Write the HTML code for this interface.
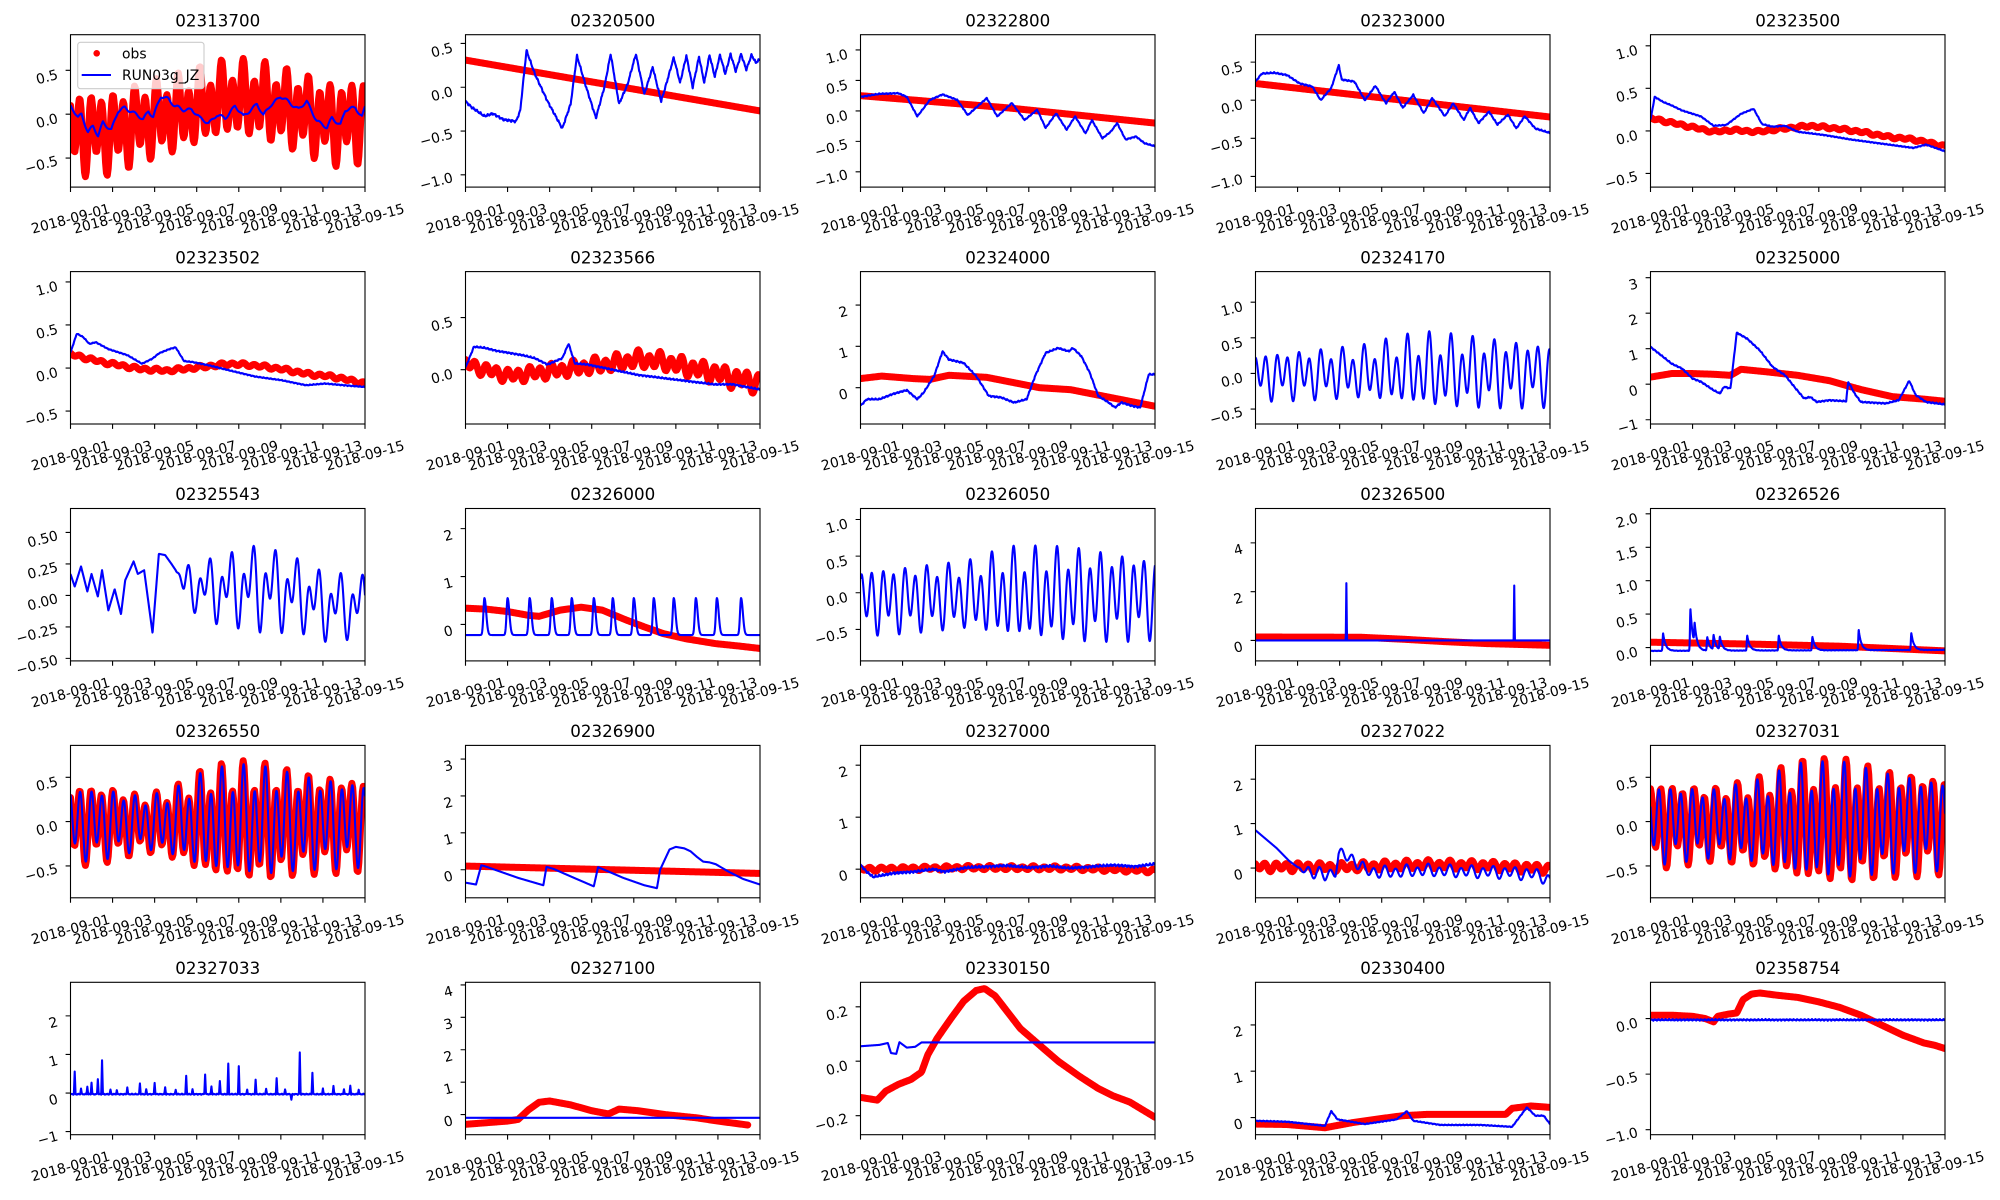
<!DOCTYPE html>
<html><head><meta charset="utf-8">
<style>
html,body{margin:0;padding:0;background:#fff;}
svg{display:block;}
text{font-family:"DejaVu Sans","Liberation Sans",sans-serif;font-size:13.9px;fill:#000;}
.ti{font-size:16.7px;text-anchor:middle;}
.xl{text-anchor:middle;}
.yl{text-anchor:end;}
.fr{fill:none;stroke:#000;stroke-width:1.1;}
.tk{fill:none;stroke:#000;stroke-width:1.1;}
.ob{fill:none;stroke:#ff0000;stroke-width:7.0;stroke-linejoin:round;stroke-linecap:round;}
.md{fill:none;stroke:#0000ff;stroke-width:2.1;stroke-linejoin:round;stroke-linecap:butt;}
</style></head>
<body>
<svg id="fig" width="2000" height="1200" viewBox="0 0 2000 1200" xmlns="http://www.w3.org/2000/svg">
<defs><clipPath id="cp"><rect x="0" y="0" width="294.5" height="152.4"/></clipPath></defs>
<rect width="2000" height="1200" fill="#fff"/>

<!-- Panel 0 -->
<g transform="translate(70.5 34.7)">
<g clip-path="url(#cp)" id="d0"></g>
<rect class="fr" width="294.5" height="152.4"/>
<path class="tk" d="M0 152.4v4.9M42.07 152.4v4.9M84.14 152.4v4.9M126.21 152.4v4.9M168.29 152.4v4.9M210.36 152.4v4.9M252.43 152.4v4.9M294.5 152.4v4.9M0 35.57h-4.9M0 79.49h-4.9M0 123.41h-4.9"/>
<text class="xl" transform="translate(0 183.7) rotate(-15)" y="5">2018-09-01</text>
<text class="xl" transform="translate(42.07 183.7) rotate(-15)" y="5">2018-09-03</text>
<text class="xl" transform="translate(84.14 183.7) rotate(-15)" y="5">2018-09-05</text>
<text class="xl" transform="translate(126.21 183.7) rotate(-15)" y="5">2018-09-07</text>
<text class="xl" transform="translate(168.29 183.7) rotate(-15)" y="5">2018-09-09</text>
<text class="xl" transform="translate(210.36 183.7) rotate(-15)" y="5">2018-09-11</text>
<text class="xl" transform="translate(252.43 183.7) rotate(-15)" y="5">2018-09-13</text>
<text class="xl" transform="translate(294.5 183.7) rotate(-15)" y="5">2018-09-15</text>
<text class="yl" transform="translate(-11.7 43.97) rotate(-15)">0.5</text>
<text class="yl" transform="translate(-11.7 87.89) rotate(-15)">0.0</text>
<text class="yl" transform="translate(-11.7 130.26) rotate(-15)">−0.5</text>
<text class="ti" x="147.25" y="-8.3">02313700</text>
<rect x="7.2" y="7.6" width="126.3" height="46.4" rx="2.8" fill="#fff" fill-opacity="0.8" stroke="#cccccc" stroke-width="1.1"/>
<circle cx="26.2" cy="18.6" r="3.3" fill="#ff0000"/>
<line x1="11.2" y1="40.3" x2="40.5" y2="40.3" stroke="#0000ff" stroke-width="2.1"/>
<text x="51.5" y="23.6">obs</text>
<text x="51.5" y="45.3">RUN03g_JZ</text>
</g>

<!-- Panel 1 -->
<g transform="translate(465.5 34.7)">
<g clip-path="url(#cp)" id="d1"></g>
<rect class="fr" width="294.5" height="152.4"/>
<path class="tk" d="M0 152.4v4.9M42.07 152.4v4.9M84.14 152.4v4.9M126.21 152.4v4.9M168.29 152.4v4.9M210.36 152.4v4.9M252.43 152.4v4.9M294.5 152.4v4.9M0 8.76h-4.9M0 52.55h-4.9M0 96.35h-4.9M0 140.14h-4.9"/>
<text class="xl" transform="translate(0 183.7) rotate(-15)" y="5">2018-09-01</text>
<text class="xl" transform="translate(42.07 183.7) rotate(-15)" y="5">2018-09-03</text>
<text class="xl" transform="translate(84.14 183.7) rotate(-15)" y="5">2018-09-05</text>
<text class="xl" transform="translate(126.21 183.7) rotate(-15)" y="5">2018-09-07</text>
<text class="xl" transform="translate(168.29 183.7) rotate(-15)" y="5">2018-09-09</text>
<text class="xl" transform="translate(210.36 183.7) rotate(-15)" y="5">2018-09-11</text>
<text class="xl" transform="translate(252.43 183.7) rotate(-15)" y="5">2018-09-13</text>
<text class="xl" transform="translate(294.5 183.7) rotate(-15)" y="5">2018-09-15</text>
<text class="yl" transform="translate(-11.7 17.16) rotate(-15)">0.5</text>
<text class="yl" transform="translate(-11.7 60.95) rotate(-15)">0.0</text>
<text class="yl" transform="translate(-11.7 103.2) rotate(-15)">−0.5</text>
<text class="yl" transform="translate(-11.7 146.99) rotate(-15)">−1.0</text>
<text class="ti" x="147.25" y="-8.3">02320500</text>
</g>

<!-- Panel 2 -->
<g transform="translate(860.5 34.7)">
<g clip-path="url(#cp)" id="d2"></g>
<rect class="fr" width="294.5" height="152.4"/>
<path class="tk" d="M0 152.4v4.9M42.07 152.4v4.9M84.14 152.4v4.9M126.21 152.4v4.9M168.29 152.4v4.9M210.36 152.4v4.9M252.43 152.4v4.9M294.5 152.4v4.9M0 15.24h-4.9M0 45.72h-4.9M0 76.2h-4.9M0 106.68h-4.9M0 137.16h-4.9"/>
<text class="xl" transform="translate(0 183.7) rotate(-15)" y="5">2018-09-01</text>
<text class="xl" transform="translate(42.07 183.7) rotate(-15)" y="5">2018-09-03</text>
<text class="xl" transform="translate(84.14 183.7) rotate(-15)" y="5">2018-09-05</text>
<text class="xl" transform="translate(126.21 183.7) rotate(-15)" y="5">2018-09-07</text>
<text class="xl" transform="translate(168.29 183.7) rotate(-15)" y="5">2018-09-09</text>
<text class="xl" transform="translate(210.36 183.7) rotate(-15)" y="5">2018-09-11</text>
<text class="xl" transform="translate(252.43 183.7) rotate(-15)" y="5">2018-09-13</text>
<text class="xl" transform="translate(294.5 183.7) rotate(-15)" y="5">2018-09-15</text>
<text class="yl" transform="translate(-11.7 23.64) rotate(-15)">1.0</text>
<text class="yl" transform="translate(-11.7 54.12) rotate(-15)">0.5</text>
<text class="yl" transform="translate(-11.7 84.6) rotate(-15)">0.0</text>
<text class="yl" transform="translate(-11.7 113.53) rotate(-15)">−0.5</text>
<text class="yl" transform="translate(-11.7 144.01) rotate(-15)">−1.0</text>
<text class="ti" x="147.25" y="-8.3">02322800</text>
</g>

<!-- Panel 3 -->
<g transform="translate(1255.5 34.7)">
<g clip-path="url(#cp)" id="d3"></g>
<rect class="fr" width="294.5" height="152.4"/>
<path class="tk" d="M0 152.4v4.9M42.07 152.4v4.9M84.14 152.4v4.9M126.21 152.4v4.9M168.29 152.4v4.9M210.36 152.4v4.9M252.43 152.4v4.9M294.5 152.4v4.9M0 27.43h-4.9M0 65.53h-4.9M0 103.63h-4.9M0 141.73h-4.9"/>
<text class="xl" transform="translate(0 183.7) rotate(-15)" y="5">2018-09-01</text>
<text class="xl" transform="translate(42.07 183.7) rotate(-15)" y="5">2018-09-03</text>
<text class="xl" transform="translate(84.14 183.7) rotate(-15)" y="5">2018-09-05</text>
<text class="xl" transform="translate(126.21 183.7) rotate(-15)" y="5">2018-09-07</text>
<text class="xl" transform="translate(168.29 183.7) rotate(-15)" y="5">2018-09-09</text>
<text class="xl" transform="translate(210.36 183.7) rotate(-15)" y="5">2018-09-11</text>
<text class="xl" transform="translate(252.43 183.7) rotate(-15)" y="5">2018-09-13</text>
<text class="xl" transform="translate(294.5 183.7) rotate(-15)" y="5">2018-09-15</text>
<text class="yl" transform="translate(-11.7 35.83) rotate(-15)">0.5</text>
<text class="yl" transform="translate(-11.7 73.93) rotate(-15)">0.0</text>
<text class="yl" transform="translate(-11.7 110.48) rotate(-15)">−0.5</text>
<text class="yl" transform="translate(-11.7 148.58) rotate(-15)">−1.0</text>
<text class="ti" x="147.25" y="-8.3">02323000</text>
</g>

<!-- Panel 4 -->
<g transform="translate(1650.5 34.7)">
<g clip-path="url(#cp)" id="d4"></g>
<rect class="fr" width="294.5" height="152.4"/>
<path class="tk" d="M0 152.4v4.9M42.07 152.4v4.9M84.14 152.4v4.9M126.21 152.4v4.9M168.29 152.4v4.9M210.36 152.4v4.9M252.43 152.4v4.9M294.5 152.4v4.9M0 11.07h-4.9M0 53.64h-4.9M0 96.21h-4.9M0 138.78h-4.9"/>
<text class="xl" transform="translate(0 183.7) rotate(-15)" y="5">2018-09-01</text>
<text class="xl" transform="translate(42.07 183.7) rotate(-15)" y="5">2018-09-03</text>
<text class="xl" transform="translate(84.14 183.7) rotate(-15)" y="5">2018-09-05</text>
<text class="xl" transform="translate(126.21 183.7) rotate(-15)" y="5">2018-09-07</text>
<text class="xl" transform="translate(168.29 183.7) rotate(-15)" y="5">2018-09-09</text>
<text class="xl" transform="translate(210.36 183.7) rotate(-15)" y="5">2018-09-11</text>
<text class="xl" transform="translate(252.43 183.7) rotate(-15)" y="5">2018-09-13</text>
<text class="xl" transform="translate(294.5 183.7) rotate(-15)" y="5">2018-09-15</text>
<text class="yl" transform="translate(-11.7 19.47) rotate(-15)">1.0</text>
<text class="yl" transform="translate(-11.7 62.04) rotate(-15)">0.5</text>
<text class="yl" transform="translate(-11.7 104.61) rotate(-15)">0.0</text>
<text class="yl" transform="translate(-11.7 145.63) rotate(-15)">−0.5</text>
<text class="ti" x="147.25" y="-8.3">02323500</text>
</g>

<!-- Panel 5 -->
<g transform="translate(70.5 271.6)">
<g clip-path="url(#cp)" id="d5"></g>
<rect class="fr" width="294.5" height="152.4"/>
<path class="tk" d="M0 152.4v4.9M42.07 152.4v4.9M84.14 152.4v4.9M126.21 152.4v4.9M168.29 152.4v4.9M210.36 152.4v4.9M252.43 152.4v4.9M294.5 152.4v4.9M0 10.33h-4.9M0 53.38h-4.9M0 96.43h-4.9M0 139.48h-4.9"/>
<text class="xl" transform="translate(0 183.7) rotate(-15)" y="5">2018-09-01</text>
<text class="xl" transform="translate(42.07 183.7) rotate(-15)" y="5">2018-09-03</text>
<text class="xl" transform="translate(84.14 183.7) rotate(-15)" y="5">2018-09-05</text>
<text class="xl" transform="translate(126.21 183.7) rotate(-15)" y="5">2018-09-07</text>
<text class="xl" transform="translate(168.29 183.7) rotate(-15)" y="5">2018-09-09</text>
<text class="xl" transform="translate(210.36 183.7) rotate(-15)" y="5">2018-09-11</text>
<text class="xl" transform="translate(252.43 183.7) rotate(-15)" y="5">2018-09-13</text>
<text class="xl" transform="translate(294.5 183.7) rotate(-15)" y="5">2018-09-15</text>
<text class="yl" transform="translate(-11.7 18.73) rotate(-15)">1.0</text>
<text class="yl" transform="translate(-11.7 61.78) rotate(-15)">0.5</text>
<text class="yl" transform="translate(-11.7 104.83) rotate(-15)">0.0</text>
<text class="yl" transform="translate(-11.7 146.33) rotate(-15)">−0.5</text>
<text class="ti" x="147.25" y="-8.3">02323502</text>
</g>

<!-- Panel 6 -->
<g transform="translate(465.5 271.6)">
<g clip-path="url(#cp)" id="d6"></g>
<rect class="fr" width="294.5" height="152.4"/>
<path class="tk" d="M0 152.4v4.9M42.07 152.4v4.9M84.14 152.4v4.9M126.21 152.4v4.9M168.29 152.4v4.9M210.36 152.4v4.9M252.43 152.4v4.9M294.5 152.4v4.9M0 45.93h-4.9M0 98.12h-4.9"/>
<text class="xl" transform="translate(0 183.7) rotate(-15)" y="5">2018-09-01</text>
<text class="xl" transform="translate(42.07 183.7) rotate(-15)" y="5">2018-09-03</text>
<text class="xl" transform="translate(84.14 183.7) rotate(-15)" y="5">2018-09-05</text>
<text class="xl" transform="translate(126.21 183.7) rotate(-15)" y="5">2018-09-07</text>
<text class="xl" transform="translate(168.29 183.7) rotate(-15)" y="5">2018-09-09</text>
<text class="xl" transform="translate(210.36 183.7) rotate(-15)" y="5">2018-09-11</text>
<text class="xl" transform="translate(252.43 183.7) rotate(-15)" y="5">2018-09-13</text>
<text class="xl" transform="translate(294.5 183.7) rotate(-15)" y="5">2018-09-15</text>
<text class="yl" transform="translate(-11.7 54.33) rotate(-15)">0.5</text>
<text class="yl" transform="translate(-11.7 106.52) rotate(-15)">0.0</text>
<text class="ti" x="147.25" y="-8.3">02323566</text>
</g>

<!-- Panel 7 -->
<g transform="translate(860.5 271.6)">
<g clip-path="url(#cp)" id="d7"></g>
<rect class="fr" width="294.5" height="152.4"/>
<path class="tk" d="M0 152.4v4.9M42.07 152.4v4.9M84.14 152.4v4.9M126.21 152.4v4.9M168.29 152.4v4.9M210.36 152.4v4.9M252.43 152.4v4.9M294.5 152.4v4.9M0 33.45h-4.9M0 74.75h-4.9M0 116.05h-4.9"/>
<text class="xl" transform="translate(0 183.7) rotate(-15)" y="5">2018-09-01</text>
<text class="xl" transform="translate(42.07 183.7) rotate(-15)" y="5">2018-09-03</text>
<text class="xl" transform="translate(84.14 183.7) rotate(-15)" y="5">2018-09-05</text>
<text class="xl" transform="translate(126.21 183.7) rotate(-15)" y="5">2018-09-07</text>
<text class="xl" transform="translate(168.29 183.7) rotate(-15)" y="5">2018-09-09</text>
<text class="xl" transform="translate(210.36 183.7) rotate(-15)" y="5">2018-09-11</text>
<text class="xl" transform="translate(252.43 183.7) rotate(-15)" y="5">2018-09-13</text>
<text class="xl" transform="translate(294.5 183.7) rotate(-15)" y="5">2018-09-15</text>
<text class="yl" transform="translate(-11.7 43.6) rotate(-15)">2</text>
<text class="yl" transform="translate(-11.7 84.9) rotate(-15)">1</text>
<text class="yl" transform="translate(-11.7 126.2) rotate(-15)">0</text>
<text class="ti" x="147.25" y="-8.3">02324000</text>
</g>

<!-- Panel 8 -->
<g transform="translate(1255.5 271.6)">
<g clip-path="url(#cp)" id="d8"></g>
<rect class="fr" width="294.5" height="152.4"/>
<path class="tk" d="M0 152.4v4.9M42.07 152.4v4.9M84.14 152.4v4.9M126.21 152.4v4.9M168.29 152.4v4.9M210.36 152.4v4.9M252.43 152.4v4.9M294.5 152.4v4.9M0 30.62h-4.9M0 66.23h-4.9M0 101.83h-4.9M0 137.44h-4.9"/>
<text class="xl" transform="translate(0 183.7) rotate(-15)" y="5">2018-09-01</text>
<text class="xl" transform="translate(42.07 183.7) rotate(-15)" y="5">2018-09-03</text>
<text class="xl" transform="translate(84.14 183.7) rotate(-15)" y="5">2018-09-05</text>
<text class="xl" transform="translate(126.21 183.7) rotate(-15)" y="5">2018-09-07</text>
<text class="xl" transform="translate(168.29 183.7) rotate(-15)" y="5">2018-09-09</text>
<text class="xl" transform="translate(210.36 183.7) rotate(-15)" y="5">2018-09-11</text>
<text class="xl" transform="translate(252.43 183.7) rotate(-15)" y="5">2018-09-13</text>
<text class="xl" transform="translate(294.5 183.7) rotate(-15)" y="5">2018-09-15</text>
<text class="yl" transform="translate(-11.7 39.02) rotate(-15)">1.0</text>
<text class="yl" transform="translate(-11.7 74.63) rotate(-15)">0.5</text>
<text class="yl" transform="translate(-11.7 110.23) rotate(-15)">0.0</text>
<text class="yl" transform="translate(-11.7 144.29) rotate(-15)">−0.5</text>
<text class="ti" x="147.25" y="-8.3">02324170</text>
</g>

<!-- Panel 9 -->
<g transform="translate(1650.5 271.6)">
<g clip-path="url(#cp)" id="d9"></g>
<rect class="fr" width="294.5" height="152.4"/>
<path class="tk" d="M0 152.4v4.9M42.07 152.4v4.9M84.14 152.4v4.9M126.21 152.4v4.9M168.29 152.4v4.9M210.36 152.4v4.9M252.43 152.4v4.9M294.5 152.4v4.9M0 6.04h-4.9M0 41.56h-4.9M0 77.09h-4.9M0 112.61h-4.9M0 148.14h-4.9"/>
<text class="xl" transform="translate(0 183.7) rotate(-15)" y="5">2018-09-01</text>
<text class="xl" transform="translate(42.07 183.7) rotate(-15)" y="5">2018-09-03</text>
<text class="xl" transform="translate(84.14 183.7) rotate(-15)" y="5">2018-09-05</text>
<text class="xl" transform="translate(126.21 183.7) rotate(-15)" y="5">2018-09-07</text>
<text class="xl" transform="translate(168.29 183.7) rotate(-15)" y="5">2018-09-09</text>
<text class="xl" transform="translate(210.36 183.7) rotate(-15)" y="5">2018-09-11</text>
<text class="xl" transform="translate(252.43 183.7) rotate(-15)" y="5">2018-09-13</text>
<text class="xl" transform="translate(294.5 183.7) rotate(-15)" y="5">2018-09-15</text>
<text class="yl" transform="translate(-11.7 16.19) rotate(-15)">3</text>
<text class="yl" transform="translate(-11.7 51.71) rotate(-15)">2</text>
<text class="yl" transform="translate(-11.7 87.24) rotate(-15)">1</text>
<text class="yl" transform="translate(-11.7 122.76) rotate(-15)">0</text>
<text class="yl" transform="translate(-11.7 156.79) rotate(-15)">−1</text>
<text class="ti" x="147.25" y="-8.3">02325000</text>
</g>

<!-- Panel 10 -->
<g transform="translate(70.5 508.5)">
<g clip-path="url(#cp)" id="d10"></g>
<rect class="fr" width="294.5" height="152.4"/>
<path class="tk" d="M0 152.4v4.9M42.07 152.4v4.9M84.14 152.4v4.9M126.21 152.4v4.9M168.29 152.4v4.9M210.36 152.4v4.9M252.43 152.4v4.9M294.5 152.4v4.9M0 23.93h-4.9M0 55.42h-4.9M0 86.91h-4.9M0 118.4h-4.9M0 149.88h-4.9"/>
<text class="xl" transform="translate(0 183.7) rotate(-15)" y="5">2018-09-01</text>
<text class="xl" transform="translate(42.07 183.7) rotate(-15)" y="5">2018-09-03</text>
<text class="xl" transform="translate(84.14 183.7) rotate(-15)" y="5">2018-09-05</text>
<text class="xl" transform="translate(126.21 183.7) rotate(-15)" y="5">2018-09-07</text>
<text class="xl" transform="translate(168.29 183.7) rotate(-15)" y="5">2018-09-09</text>
<text class="xl" transform="translate(210.36 183.7) rotate(-15)" y="5">2018-09-11</text>
<text class="xl" transform="translate(252.43 183.7) rotate(-15)" y="5">2018-09-13</text>
<text class="xl" transform="translate(294.5 183.7) rotate(-15)" y="5">2018-09-15</text>
<text class="yl" transform="translate(-11.7 31.18) rotate(-15)">0.50</text>
<text class="yl" transform="translate(-11.7 62.67) rotate(-15)">0.25</text>
<text class="yl" transform="translate(-11.7 94.16) rotate(-15)">0.00</text>
<text class="yl" transform="translate(-11.7 124.15) rotate(-15)">−0.25</text>
<text class="yl" transform="translate(-11.7 155.63) rotate(-15)">−0.50</text>
<text class="ti" x="147.25" y="-8.3">02325543</text>
</g>

<!-- Panel 11 -->
<g transform="translate(465.5 508.5)">
<g clip-path="url(#cp)" id="d11"></g>
<rect class="fr" width="294.5" height="152.4"/>
<path class="tk" d="M0 152.4v4.9M42.07 152.4v4.9M84.14 152.4v4.9M126.21 152.4v4.9M168.29 152.4v4.9M210.36 152.4v4.9M252.43 152.4v4.9M294.5 152.4v4.9M0 20.13h-4.9M0 68.05h-4.9M0 115.98h-4.9"/>
<text class="xl" transform="translate(0 183.7) rotate(-15)" y="5">2018-09-01</text>
<text class="xl" transform="translate(42.07 183.7) rotate(-15)" y="5">2018-09-03</text>
<text class="xl" transform="translate(84.14 183.7) rotate(-15)" y="5">2018-09-05</text>
<text class="xl" transform="translate(126.21 183.7) rotate(-15)" y="5">2018-09-07</text>
<text class="xl" transform="translate(168.29 183.7) rotate(-15)" y="5">2018-09-09</text>
<text class="xl" transform="translate(210.36 183.7) rotate(-15)" y="5">2018-09-11</text>
<text class="xl" transform="translate(252.43 183.7) rotate(-15)" y="5">2018-09-13</text>
<text class="xl" transform="translate(294.5 183.7) rotate(-15)" y="5">2018-09-15</text>
<text class="yl" transform="translate(-11.7 30.28) rotate(-15)">2</text>
<text class="yl" transform="translate(-11.7 78.2) rotate(-15)">1</text>
<text class="yl" transform="translate(-11.7 126.13) rotate(-15)">0</text>
<text class="ti" x="147.25" y="-8.3">02326000</text>
</g>

<!-- Panel 12 -->
<g transform="translate(860.5 508.5)">
<g clip-path="url(#cp)" id="d12"></g>
<rect class="fr" width="294.5" height="152.4"/>
<path class="tk" d="M0 152.4v4.9M42.07 152.4v4.9M84.14 152.4v4.9M126.21 152.4v4.9M168.29 152.4v4.9M210.36 152.4v4.9M252.43 152.4v4.9M294.5 152.4v4.9M0 10.99h-4.9M0 47.63h-4.9M0 84.26h-4.9M0 120.9h-4.9"/>
<text class="xl" transform="translate(0 183.7) rotate(-15)" y="5">2018-09-01</text>
<text class="xl" transform="translate(42.07 183.7) rotate(-15)" y="5">2018-09-03</text>
<text class="xl" transform="translate(84.14 183.7) rotate(-15)" y="5">2018-09-05</text>
<text class="xl" transform="translate(126.21 183.7) rotate(-15)" y="5">2018-09-07</text>
<text class="xl" transform="translate(168.29 183.7) rotate(-15)" y="5">2018-09-09</text>
<text class="xl" transform="translate(210.36 183.7) rotate(-15)" y="5">2018-09-11</text>
<text class="xl" transform="translate(252.43 183.7) rotate(-15)" y="5">2018-09-13</text>
<text class="xl" transform="translate(294.5 183.7) rotate(-15)" y="5">2018-09-15</text>
<text class="yl" transform="translate(-11.7 19.39) rotate(-15)">1.0</text>
<text class="yl" transform="translate(-11.7 56.03) rotate(-15)">0.5</text>
<text class="yl" transform="translate(-11.7 92.66) rotate(-15)">0.0</text>
<text class="yl" transform="translate(-11.7 127.75) rotate(-15)">−0.5</text>
<text class="ti" x="147.25" y="-8.3">02326050</text>
</g>

<!-- Panel 13 -->
<g transform="translate(1255.5 508.5)">
<g clip-path="url(#cp)" id="d13"></g>
<rect class="fr" width="294.5" height="152.4"/>
<path class="tk" d="M0 152.4v4.9M42.07 152.4v4.9M84.14 152.4v4.9M126.21 152.4v4.9M168.29 152.4v4.9M210.36 152.4v4.9M252.43 152.4v4.9M294.5 152.4v4.9M0 34.38h-4.9M0 83.15h-4.9M0 131.92h-4.9"/>
<text class="xl" transform="translate(0 183.7) rotate(-15)" y="5">2018-09-01</text>
<text class="xl" transform="translate(42.07 183.7) rotate(-15)" y="5">2018-09-03</text>
<text class="xl" transform="translate(84.14 183.7) rotate(-15)" y="5">2018-09-05</text>
<text class="xl" transform="translate(126.21 183.7) rotate(-15)" y="5">2018-09-07</text>
<text class="xl" transform="translate(168.29 183.7) rotate(-15)" y="5">2018-09-09</text>
<text class="xl" transform="translate(210.36 183.7) rotate(-15)" y="5">2018-09-11</text>
<text class="xl" transform="translate(252.43 183.7) rotate(-15)" y="5">2018-09-13</text>
<text class="xl" transform="translate(294.5 183.7) rotate(-15)" y="5">2018-09-15</text>
<text class="yl" transform="translate(-11.7 44.53) rotate(-15)">4</text>
<text class="yl" transform="translate(-11.7 93.3) rotate(-15)">2</text>
<text class="yl" transform="translate(-11.7 142.07) rotate(-15)">0</text>
<text class="ti" x="147.25" y="-8.3">02326500</text>
</g>

<!-- Panel 14 -->
<g transform="translate(1650.5 508.5)">
<g clip-path="url(#cp)" id="d14"></g>
<rect class="fr" width="294.5" height="152.4"/>
<path class="tk" d="M0 152.4v4.9M42.07 152.4v4.9M84.14 152.4v4.9M126.21 152.4v4.9M168.29 152.4v4.9M210.36 152.4v4.9M252.43 152.4v4.9M294.5 152.4v4.9M0 5.35h-4.9M0 38.77h-4.9M0 72.19h-4.9M0 105.61h-4.9M0 139.03h-4.9"/>
<text class="xl" transform="translate(0 183.7) rotate(-15)" y="5">2018-09-01</text>
<text class="xl" transform="translate(42.07 183.7) rotate(-15)" y="5">2018-09-03</text>
<text class="xl" transform="translate(84.14 183.7) rotate(-15)" y="5">2018-09-05</text>
<text class="xl" transform="translate(126.21 183.7) rotate(-15)" y="5">2018-09-07</text>
<text class="xl" transform="translate(168.29 183.7) rotate(-15)" y="5">2018-09-09</text>
<text class="xl" transform="translate(210.36 183.7) rotate(-15)" y="5">2018-09-11</text>
<text class="xl" transform="translate(252.43 183.7) rotate(-15)" y="5">2018-09-13</text>
<text class="xl" transform="translate(294.5 183.7) rotate(-15)" y="5">2018-09-15</text>
<text class="yl" transform="translate(-11.7 13.75) rotate(-15)">2.0</text>
<text class="yl" transform="translate(-11.7 47.17) rotate(-15)">1.5</text>
<text class="yl" transform="translate(-11.7 80.59) rotate(-15)">1.0</text>
<text class="yl" transform="translate(-11.7 114.01) rotate(-15)">0.5</text>
<text class="yl" transform="translate(-11.7 147.43) rotate(-15)">0.0</text>
<text class="ti" x="147.25" y="-8.3">02326526</text>
</g>

<!-- Panel 15 -->
<g transform="translate(70.5 745.4)">
<g clip-path="url(#cp)" id="d15"></g>
<rect class="fr" width="294.5" height="152.4"/>
<path class="tk" d="M0 152.4v4.9M42.07 152.4v4.9M84.14 152.4v4.9M126.21 152.4v4.9M168.29 152.4v4.9M210.36 152.4v4.9M252.43 152.4v4.9M294.5 152.4v4.9M0 31.9h-4.9M0 76.2h-4.9M0 120.5h-4.9"/>
<text class="xl" transform="translate(0 183.7) rotate(-15)" y="5">2018-09-01</text>
<text class="xl" transform="translate(42.07 183.7) rotate(-15)" y="5">2018-09-03</text>
<text class="xl" transform="translate(84.14 183.7) rotate(-15)" y="5">2018-09-05</text>
<text class="xl" transform="translate(126.21 183.7) rotate(-15)" y="5">2018-09-07</text>
<text class="xl" transform="translate(168.29 183.7) rotate(-15)" y="5">2018-09-09</text>
<text class="xl" transform="translate(210.36 183.7) rotate(-15)" y="5">2018-09-11</text>
<text class="xl" transform="translate(252.43 183.7) rotate(-15)" y="5">2018-09-13</text>
<text class="xl" transform="translate(294.5 183.7) rotate(-15)" y="5">2018-09-15</text>
<text class="yl" transform="translate(-11.7 40.3) rotate(-15)">0.5</text>
<text class="yl" transform="translate(-11.7 84.6) rotate(-15)">0.0</text>
<text class="yl" transform="translate(-11.7 127.35) rotate(-15)">−0.5</text>
<text class="ti" x="147.25" y="-8.3">02326550</text>
</g>

<!-- Panel 16 -->
<g transform="translate(465.5 745.4)">
<g clip-path="url(#cp)" id="d16"></g>
<rect class="fr" width="294.5" height="152.4"/>
<path class="tk" d="M0 152.4v4.9M42.07 152.4v4.9M84.14 152.4v4.9M126.21 152.4v4.9M168.29 152.4v4.9M210.36 152.4v4.9M252.43 152.4v4.9M294.5 152.4v4.9M0 13.65h-4.9M0 50.55h-4.9M0 87.46h-4.9M0 124.36h-4.9"/>
<text class="xl" transform="translate(0 183.7) rotate(-15)" y="5">2018-09-01</text>
<text class="xl" transform="translate(42.07 183.7) rotate(-15)" y="5">2018-09-03</text>
<text class="xl" transform="translate(84.14 183.7) rotate(-15)" y="5">2018-09-05</text>
<text class="xl" transform="translate(126.21 183.7) rotate(-15)" y="5">2018-09-07</text>
<text class="xl" transform="translate(168.29 183.7) rotate(-15)" y="5">2018-09-09</text>
<text class="xl" transform="translate(210.36 183.7) rotate(-15)" y="5">2018-09-11</text>
<text class="xl" transform="translate(252.43 183.7) rotate(-15)" y="5">2018-09-13</text>
<text class="xl" transform="translate(294.5 183.7) rotate(-15)" y="5">2018-09-15</text>
<text class="yl" transform="translate(-11.7 23.8) rotate(-15)">3</text>
<text class="yl" transform="translate(-11.7 60.7) rotate(-15)">2</text>
<text class="yl" transform="translate(-11.7 97.61) rotate(-15)">1</text>
<text class="yl" transform="translate(-11.7 134.51) rotate(-15)">0</text>
<text class="ti" x="147.25" y="-8.3">02326900</text>
</g>

<!-- Panel 17 -->
<g transform="translate(860.5 745.4)">
<g clip-path="url(#cp)" id="d17"></g>
<rect class="fr" width="294.5" height="152.4"/>
<path class="tk" d="M0 152.4v4.9M42.07 152.4v4.9M84.14 152.4v4.9M126.21 152.4v4.9M168.29 152.4v4.9M210.36 152.4v4.9M252.43 152.4v4.9M294.5 152.4v4.9M0 19.76h-4.9M0 71.78h-4.9M0 123.79h-4.9"/>
<text class="xl" transform="translate(0 183.7) rotate(-15)" y="5">2018-09-01</text>
<text class="xl" transform="translate(42.07 183.7) rotate(-15)" y="5">2018-09-03</text>
<text class="xl" transform="translate(84.14 183.7) rotate(-15)" y="5">2018-09-05</text>
<text class="xl" transform="translate(126.21 183.7) rotate(-15)" y="5">2018-09-07</text>
<text class="xl" transform="translate(168.29 183.7) rotate(-15)" y="5">2018-09-09</text>
<text class="xl" transform="translate(210.36 183.7) rotate(-15)" y="5">2018-09-11</text>
<text class="xl" transform="translate(252.43 183.7) rotate(-15)" y="5">2018-09-13</text>
<text class="xl" transform="translate(294.5 183.7) rotate(-15)" y="5">2018-09-15</text>
<text class="yl" transform="translate(-11.7 29.91) rotate(-15)">2</text>
<text class="yl" transform="translate(-11.7 81.93) rotate(-15)">1</text>
<text class="yl" transform="translate(-11.7 133.94) rotate(-15)">0</text>
<text class="ti" x="147.25" y="-8.3">02327000</text>
</g>

<!-- Panel 18 -->
<g transform="translate(1255.5 745.4)">
<g clip-path="url(#cp)" id="d18"></g>
<rect class="fr" width="294.5" height="152.4"/>
<path class="tk" d="M0 152.4v4.9M42.07 152.4v4.9M84.14 152.4v4.9M126.21 152.4v4.9M168.29 152.4v4.9M210.36 152.4v4.9M252.43 152.4v4.9M294.5 152.4v4.9M0 33.77h-4.9M0 78.2h-4.9M0 122.63h-4.9"/>
<text class="xl" transform="translate(0 183.7) rotate(-15)" y="5">2018-09-01</text>
<text class="xl" transform="translate(42.07 183.7) rotate(-15)" y="5">2018-09-03</text>
<text class="xl" transform="translate(84.14 183.7) rotate(-15)" y="5">2018-09-05</text>
<text class="xl" transform="translate(126.21 183.7) rotate(-15)" y="5">2018-09-07</text>
<text class="xl" transform="translate(168.29 183.7) rotate(-15)" y="5">2018-09-09</text>
<text class="xl" transform="translate(210.36 183.7) rotate(-15)" y="5">2018-09-11</text>
<text class="xl" transform="translate(252.43 183.7) rotate(-15)" y="5">2018-09-13</text>
<text class="xl" transform="translate(294.5 183.7) rotate(-15)" y="5">2018-09-15</text>
<text class="yl" transform="translate(-11.7 43.92) rotate(-15)">2</text>
<text class="yl" transform="translate(-11.7 88.35) rotate(-15)">1</text>
<text class="yl" transform="translate(-11.7 132.78) rotate(-15)">0</text>
<text class="ti" x="147.25" y="-8.3">02327022</text>
</g>

<!-- Panel 19 -->
<g transform="translate(1650.5 745.4)">
<g clip-path="url(#cp)" id="d19"></g>
<rect class="fr" width="294.5" height="152.4"/>
<path class="tk" d="M0 152.4v4.9M42.07 152.4v4.9M84.14 152.4v4.9M126.21 152.4v4.9M168.29 152.4v4.9M210.36 152.4v4.9M252.43 152.4v4.9M294.5 152.4v4.9M0 31.9h-4.9M0 76.2h-4.9M0 120.5h-4.9"/>
<text class="xl" transform="translate(0 183.7) rotate(-15)" y="5">2018-09-01</text>
<text class="xl" transform="translate(42.07 183.7) rotate(-15)" y="5">2018-09-03</text>
<text class="xl" transform="translate(84.14 183.7) rotate(-15)" y="5">2018-09-05</text>
<text class="xl" transform="translate(126.21 183.7) rotate(-15)" y="5">2018-09-07</text>
<text class="xl" transform="translate(168.29 183.7) rotate(-15)" y="5">2018-09-09</text>
<text class="xl" transform="translate(210.36 183.7) rotate(-15)" y="5">2018-09-11</text>
<text class="xl" transform="translate(252.43 183.7) rotate(-15)" y="5">2018-09-13</text>
<text class="xl" transform="translate(294.5 183.7) rotate(-15)" y="5">2018-09-15</text>
<text class="yl" transform="translate(-11.7 40.3) rotate(-15)">0.5</text>
<text class="yl" transform="translate(-11.7 84.6) rotate(-15)">0.0</text>
<text class="yl" transform="translate(-11.7 127.35) rotate(-15)">−0.5</text>
<text class="ti" x="147.25" y="-8.3">02327031</text>
</g>

<!-- Panel 20 -->
<g transform="translate(70.5 982.3)">
<g clip-path="url(#cp)" id="d20"></g>
<rect class="fr" width="294.5" height="152.4"/>
<path class="tk" d="M0 152.4v4.9M42.07 152.4v4.9M84.14 152.4v4.9M126.21 152.4v4.9M168.29 152.4v4.9M210.36 152.4v4.9M252.43 152.4v4.9M294.5 152.4v4.9M0 33.57h-4.9M0 72.15h-4.9M0 110.73h-4.9M0 149.3h-4.9"/>
<text class="xl" transform="translate(0 183.7) rotate(-15)" y="5">2018-09-01</text>
<text class="xl" transform="translate(42.07 183.7) rotate(-15)" y="5">2018-09-03</text>
<text class="xl" transform="translate(84.14 183.7) rotate(-15)" y="5">2018-09-05</text>
<text class="xl" transform="translate(126.21 183.7) rotate(-15)" y="5">2018-09-07</text>
<text class="xl" transform="translate(168.29 183.7) rotate(-15)" y="5">2018-09-09</text>
<text class="xl" transform="translate(210.36 183.7) rotate(-15)" y="5">2018-09-11</text>
<text class="xl" transform="translate(252.43 183.7) rotate(-15)" y="5">2018-09-13</text>
<text class="xl" transform="translate(294.5 183.7) rotate(-15)" y="5">2018-09-15</text>
<text class="yl" transform="translate(-11.7 43.72) rotate(-15)">2</text>
<text class="yl" transform="translate(-11.7 82.3) rotate(-15)">1</text>
<text class="yl" transform="translate(-11.7 120.88) rotate(-15)">0</text>
<text class="yl" transform="translate(-11.7 157.95) rotate(-15)">−1</text>
<text class="ti" x="147.25" y="-8.3">02327033</text>
</g>

<!-- Panel 21 -->
<g transform="translate(465.5 982.3)">
<g clip-path="url(#cp)" id="d21"></g>
<rect class="fr" width="294.5" height="152.4"/>
<path class="tk" d="M0 152.4v4.9M42.07 152.4v4.9M84.14 152.4v4.9M126.21 152.4v4.9M168.29 152.4v4.9M210.36 152.4v4.9M252.43 152.4v4.9M294.5 152.4v4.9M0 2.59h-4.9M0 35.02h-4.9M0 67.44h-4.9M0 99.87h-4.9M0 132.3h-4.9"/>
<text class="xl" transform="translate(0 183.7) rotate(-15)" y="5">2018-09-01</text>
<text class="xl" transform="translate(42.07 183.7) rotate(-15)" y="5">2018-09-03</text>
<text class="xl" transform="translate(84.14 183.7) rotate(-15)" y="5">2018-09-05</text>
<text class="xl" transform="translate(126.21 183.7) rotate(-15)" y="5">2018-09-07</text>
<text class="xl" transform="translate(168.29 183.7) rotate(-15)" y="5">2018-09-09</text>
<text class="xl" transform="translate(210.36 183.7) rotate(-15)" y="5">2018-09-11</text>
<text class="xl" transform="translate(252.43 183.7) rotate(-15)" y="5">2018-09-13</text>
<text class="xl" transform="translate(294.5 183.7) rotate(-15)" y="5">2018-09-15</text>
<text class="yl" transform="translate(-11.7 12.74) rotate(-15)">4</text>
<text class="yl" transform="translate(-11.7 45.17) rotate(-15)">3</text>
<text class="yl" transform="translate(-11.7 77.59) rotate(-15)">2</text>
<text class="yl" transform="translate(-11.7 110.02) rotate(-15)">1</text>
<text class="yl" transform="translate(-11.7 142.45) rotate(-15)">0</text>
<text class="ti" x="147.25" y="-8.3">02327100</text>
</g>

<!-- Panel 22 -->
<g transform="translate(860.5 982.3)">
<g clip-path="url(#cp)" id="d22"></g>
<rect class="fr" width="294.5" height="152.4"/>
<path class="tk" d="M0 152.4v4.9M42.07 152.4v4.9M84.14 152.4v4.9M126.21 152.4v4.9M168.29 152.4v4.9M210.36 152.4v4.9M252.43 152.4v4.9M294.5 152.4v4.9M0 24.49h-4.9M0 78.92h-4.9M0 133.35h-4.9"/>
<text class="xl" transform="translate(0 183.7) rotate(-15)" y="5">2018-09-01</text>
<text class="xl" transform="translate(42.07 183.7) rotate(-15)" y="5">2018-09-03</text>
<text class="xl" transform="translate(84.14 183.7) rotate(-15)" y="5">2018-09-05</text>
<text class="xl" transform="translate(126.21 183.7) rotate(-15)" y="5">2018-09-07</text>
<text class="xl" transform="translate(168.29 183.7) rotate(-15)" y="5">2018-09-09</text>
<text class="xl" transform="translate(210.36 183.7) rotate(-15)" y="5">2018-09-11</text>
<text class="xl" transform="translate(252.43 183.7) rotate(-15)" y="5">2018-09-13</text>
<text class="xl" transform="translate(294.5 183.7) rotate(-15)" y="5">2018-09-15</text>
<text class="yl" transform="translate(-11.7 32.89) rotate(-15)">0.2</text>
<text class="yl" transform="translate(-11.7 87.32) rotate(-15)">0.0</text>
<text class="yl" transform="translate(-11.7 140.2) rotate(-15)">−0.2</text>
<text class="ti" x="147.25" y="-8.3">02330150</text>
</g>

<!-- Panel 23 -->
<g transform="translate(1255.5 982.3)">
<g clip-path="url(#cp)" id="d23"></g>
<rect class="fr" width="294.5" height="152.4"/>
<path class="tk" d="M0 152.4v4.9M42.07 152.4v4.9M84.14 152.4v4.9M126.21 152.4v4.9M168.29 152.4v4.9M210.36 152.4v4.9M252.43 152.4v4.9M294.5 152.4v4.9M0 42.61h-4.9M0 88.93h-4.9M0 135.26h-4.9"/>
<text class="xl" transform="translate(0 183.7) rotate(-15)" y="5">2018-09-01</text>
<text class="xl" transform="translate(42.07 183.7) rotate(-15)" y="5">2018-09-03</text>
<text class="xl" transform="translate(84.14 183.7) rotate(-15)" y="5">2018-09-05</text>
<text class="xl" transform="translate(126.21 183.7) rotate(-15)" y="5">2018-09-07</text>
<text class="xl" transform="translate(168.29 183.7) rotate(-15)" y="5">2018-09-09</text>
<text class="xl" transform="translate(210.36 183.7) rotate(-15)" y="5">2018-09-11</text>
<text class="xl" transform="translate(252.43 183.7) rotate(-15)" y="5">2018-09-13</text>
<text class="xl" transform="translate(294.5 183.7) rotate(-15)" y="5">2018-09-15</text>
<text class="yl" transform="translate(-11.7 52.76) rotate(-15)">2</text>
<text class="yl" transform="translate(-11.7 99.08) rotate(-15)">1</text>
<text class="yl" transform="translate(-11.7 145.41) rotate(-15)">0</text>
<text class="ti" x="147.25" y="-8.3">02330400</text>
</g>

<!-- Panel 24 -->
<g transform="translate(1650.5 982.3)">
<g clip-path="url(#cp)" id="d24"></g>
<rect class="fr" width="294.5" height="152.4"/>
<path class="tk" d="M0 152.4v4.9M42.07 152.4v4.9M84.14 152.4v4.9M126.21 152.4v4.9M168.29 152.4v4.9M210.36 152.4v4.9M252.43 152.4v4.9M294.5 152.4v4.9M0 36.24h-4.9M0 91.82h-4.9M0 147.4h-4.9"/>
<text class="xl" transform="translate(0 183.7) rotate(-15)" y="5">2018-09-01</text>
<text class="xl" transform="translate(42.07 183.7) rotate(-15)" y="5">2018-09-03</text>
<text class="xl" transform="translate(84.14 183.7) rotate(-15)" y="5">2018-09-05</text>
<text class="xl" transform="translate(126.21 183.7) rotate(-15)" y="5">2018-09-07</text>
<text class="xl" transform="translate(168.29 183.7) rotate(-15)" y="5">2018-09-09</text>
<text class="xl" transform="translate(210.36 183.7) rotate(-15)" y="5">2018-09-11</text>
<text class="xl" transform="translate(252.43 183.7) rotate(-15)" y="5">2018-09-13</text>
<text class="xl" transform="translate(294.5 183.7) rotate(-15)" y="5">2018-09-15</text>
<text class="yl" transform="translate(-11.7 44.64) rotate(-15)">0.0</text>
<text class="yl" transform="translate(-11.7 98.67) rotate(-15)">−0.5</text>
<text class="yl" transform="translate(-11.7 154.25) rotate(-15)">−1.0</text>
<text class="ti" x="147.25" y="-8.3">02358754</text>
</g>
</svg>

<script>
(function(){
var PW=294.5,PH=152.4,TAU=Math.PI*2,NS="http://www.w3.org/2000/svg";
function pl(p){return function(t){if(t<=p[0][0])return p[0][1];for(var i=1;i<p.length;i++){if(t<=p[i][0]){var a=p[i-1],b=p[i];return a[1]+(b[1]-a[1])*(t-a[0])/(b[0]-a[0]);}}return p[p.length-1][1];};}
function tide(t,ph,d){ph=ph||0;if(d===undefined)d=0.3;return 0.8*Math.cos(TAU*1.932*(t-0.45-ph))+d*Math.cos(TAU*1.0027*(t-0.2-ph));}
function nz(t){return 0.5*Math.sin(37.1*t)+0.3*Math.sin(71.3*t+1)+0.2*Math.sin(113.7*t+2);}
function spk(t,tp,h,wr,wf){var d=t-tp;return d<0?h*Math.exp(-(d/wr)*(d/wr)):h*Math.exp(-(d/wf)*(d/wf));}
function spe(t,tp,h,wr,tau){var d=t-tp;return d<0?h*Math.exp(-(d/wr)*(d/wr)):h*Math.exp(-d/tau);}
function tri(t,tp,h,w){var d=Math.abs(t-tp);return d<w?h*(1-d/w):0;}
var P=[];

// 0
var m0=pl([[0,-0.2],[2,-0.2],[3.5,-0.08],[5,0.0],[7.5,0.18],[9,0.15],[11,0.02],[12.5,-0.1],[14,-0.05]]),a0=pl([[0,0.47],[7,0.42],[14,0.47]]);
var b0=pl([[0,0.09],[0.36,-0.04],[0.52,0],[0.83,-0.2],[1.07,-0.14],[1.31,-0.25],[1.54,-0.09],[1.94,-0.18],[2.26,0.03],[2.58,0.08],[2.9,0.03],[3.45,-0.06],[3.7,0.04],[3.93,-0.03],[4.3,0.2],[4.65,0.18],[4.97,0.09],[5.37,0.045],[5.76,0.06],[6.16,-0.05],[6.56,-0.1],[6.95,-0.01],[7.35,-0.05],[7.82,0.1],[8.22,-0.03],[8.86,0.12],[9.17,-0.02],[9.49,0.1],[9.97,0.2],[10.36,0.14],[10.84,0.06],[11.23,0.14],[11.71,-0.07],[12.19,-0.16],[12.43,-0.04],[12.83,-0.12],[13.06,0.04],[13.54,0.08],[13.86,-0.03],[14,0.08]]);
P.push({lo:-0.83,hi:0.905,obs:function(t){return m0(t)+a0(t)*tide(t);},mod:function(t){return b0(t)+0.02*tide(t);}});
// 1
var o1=pl([[0,0.31],[14,-0.27]]);
var b1=pl([[0,-0.16],[0.3,-0.23],[0.9,-0.33],[1.3,-0.3],[1.8,-0.37],[2.4,-0.39],[2.6,-0.27],[2.9,0.42],[3.3,0.15],[3.9,-0.16],[4.6,-0.47],[5.0,-0.19],[5.3,0.36],[5.7,0.03],[6.2,-0.35],[6.6,0.0],[6.9,0.38],[7.3,-0.19],[7.7,0.03],[8.1,0.38],[8.5,-0.08],[8.9,0.23],[9.3,-0.16],[9.5,0.0],[9.9,0.34],[10.2,0.05],[10.5,0.36],[10.8,0.0],[11.1,0.35],[11.35,0.05],[11.6,0.37],[11.85,0.12],[12.1,0.37],[12.35,0.15],[12.6,0.38],[12.85,0.18],[13.1,0.38],[13.35,0.2],[13.6,0.37],[13.8,0.28],[14,0.32]]);
P.push({lo:-1.14,hi:0.60,obs:o1,mod:function(t){return b1(t)+0.015*nz(t);}});
// 2
var o2=pl([[0,0.25],[7,0.05],[14,-0.2]]);
var b2=pl([[0,0.23],[0.9,0.28],[1.8,0.29],[2.2,0.23],[2.7,-0.09],[3.3,0.18],[3.9,0.27],[4.6,0.18],[5.1,-0.07],[6.0,0.21],[6.5,-0.09],[7.2,0.13],[7.8,-0.15],[8.4,0.02],[8.8,-0.28],[9.3,-0.04],[9.8,-0.31],[10.2,-0.09],[10.7,-0.37],[11.0,-0.15],[11.5,-0.45],[11.9,-0.34],[12.2,-0.2],[12.6,-0.47],[13.1,-0.42],[13.5,-0.53],[14,-0.58]]);
P.push({lo:-1.25,hi:1.25,obs:o2,mod:function(t){return b2(t)+0.01*nz(t);}});
// 3
var o3=pl([[0,0.22],[14,-0.22]]);
var b3=pl([[0,0.245],[0.3,0.35],[0.9,0.36],[1.5,0.33],[2.1,0.22],[2.7,0.18],[3.1,0.0],[3.6,0.16],[3.96,0.46],[4.1,0.27],[4.7,0.245],[5.2,0.0],[5.7,0.19],[6.2,-0.04],[6.6,0.11],[7.0,-0.1],[7.5,0.07],[8.0,-0.17],[8.4,0.03],[9.0,-0.21],[9.4,-0.04],[9.9,-0.26],[10.2,-0.1],[10.6,-0.3],[11.1,-0.15],[11.5,-0.32],[12.0,-0.19],[12.4,-0.37],[12.8,-0.21],[13.3,-0.37],[14,-0.43]]);
P.push({lo:-1.14,hi:0.86,obs:o3,mod:function(t){return b3(t)+0.01*nz(t);}});
// 4
var o4=pl([[0,0.15],[1.5,0.07],[3,-0.01],[3.9,0.01],[5.1,-0.01],[6.4,0.03],[7.6,0.06],[8.8,0.03],[10,-0.01],[11.3,-0.07],[12.5,-0.1],[14,-0.18]]);
var b4=pl([[0,0.13],[0.2,0.4],[0.6,0.34],[1.0,0.3],[1.5,0.24],[2.4,0.17],[3.0,0.06],[3.6,0.07],[4.3,0.2],[4.9,0.26],[5.3,0.08],[5.8,0.05],[6.4,0.06],[7.0,-0.01],[8.3,-0.05],[9.5,-0.1],[10.7,-0.14],[11.9,-0.18],[12.5,-0.2],[13.1,-0.16],[14,-0.24]]);
P.push({lo:-0.66,hi:1.13,obs:function(t){return o4(t)+0.015*tide(t);},mod:function(t){return b4(t)+0.006*nz(t);}});
// 5
var o5=pl([[0,0.16],[1.5,0.07],[3.3,-0.01],[4.6,-0.03],[5.8,0],[7.6,0.05],[8.8,0.03],[10,-0.01],[11.3,-0.07],[12.5,-0.1],[14,-0.18]]);
var b5=pl([[0,0.18],[0.3,0.4],[0.6,0.36],[0.9,0.28],[1.2,0.3],[1.8,0.22],[2.7,0.15],[3.4,0.05],[3.9,0.11],[4.2,0.17],[4.7,0.22],[5.0,0.24],[5.4,0.08],[5.8,0.07],[6.6,0.03],[7.6,-0.03],[8.8,-0.1],[10,-0.14],[11.2,-0.2],[12.1,-0.18],[13,-0.2],[14,-0.22]]);
P.push({lo:-0.65,hi:1.12,obs:function(t){return o5(t)+0.02*tide(t);},mod:function(t){return b5(t)+0.006*nz(t);}});
// 6
var o6=pl([[0,0.06],[0.9,0.0],[2.1,-0.06],[3.3,-0.03],[4.6,0],[5.8,0.03],[7,0.06],[8.2,0.1],[9.4,0.08],[10.6,0.02],[11.8,-0.03],[12.7,-0.08],[14,-0.13]]),a6=pl([[0,0.06],[7,0.08],[14,0.1]]);
var b6=pl([[0,0.02],[0.4,0.22],[0.9,0.21],[1.5,0.18],[2.1,0.16],[2.7,0.14],[3.3,0.11],[3.9,0.05],[4.6,0.11],[4.9,0.25],[5.2,0.06],[5.8,0.05],[7,0.0],[8.2,-0.05],[9.4,-0.08],[10.6,-0.11],[11.8,-0.14],[12.7,-0.14],[14,-0.19]]);
P.push({lo:-0.52,hi:0.94,obs:function(t){return o6(t)+a6(t)*tide(t);},mod:function(t){return b6(t)+0.008*nz(t);}});
// 7
var o7=pl([[0,0.22],[1,0.28],[2.5,0.22],[3.3,0.2],[4.2,0.3],[6.0,0.25],[7.5,0.1],[8.5,0.0],[10,-0.05],[11.5,-0.2],[14,-0.45]]);
var b7=pl([[0,-0.44],[0.3,-0.28],[0.9,-0.28],[1.5,-0.16],[2.2,-0.06],[2.7,-0.28],[3.0,-0.12],[3.5,0.28],[3.9,0.88],[4.2,0.68],[4.9,0.6],[5.5,0.28],[6.1,-0.2],[6.7,-0.24],[7.3,-0.36],[7.9,-0.28],[8.3,0.28],[8.8,0.84],[9.4,0.96],[9.9,0.88],[10.1,0.96],[10.5,0.76],[10.9,0.36],[11.3,-0.2],[11.8,-0.36],[12.1,-0.48],[12.4,-0.36],[12.9,-0.44],[13.3,-0.48],[13.7,0.32],[14,0.32]]);
P.push({lo:-0.88,hi:2.81,obs:o7,mod:function(t){return b7(t)+0.02*nz(t);}});
// 8
var c8=pl([[0,-0.03],[7,0.03],[14,0.0]]),a8=pl([[0,0.32],[5,0.35],[8,0.5],[10,0.48],[14,0.42]]);
P.push({lo:-0.71,hi:1.43,obs:null,mod:function(t){return c8(t)+a8(t)*tide(t,0.05,0.35);}});
// 9
var o9=pl([[0,0.2],[1,0.3],[2,0.3],[3,0.28],[3.8,0.25],[4.3,0.42],[5.5,0.35],[7,0.25],[8.5,0.1],[10,-0.15],[11.5,-0.35],[13,-0.42],[14,-0.48]]);
var b9=pl([[0,1.05],[0.6,0.77],[1.0,0.58],[1.5,0.44],[2.0,0.16],[2.4,0.07],[3.0,-0.17],[3.3,-0.26],[3.5,-0.07],[3.8,-0.12],[4.1,1.45],[4.6,1.28],[5.2,0.95],[5.8,0.49],[6.4,0.25],[6.9,-0.12],[7.3,-0.4],[7.6,-0.36],[7.9,-0.5],[8.5,-0.45],[9.3,-0.48],[9.4,0.07],[9.7,-0.26],[10.0,-0.5],[11.2,-0.54],[11.8,-0.45],[12.3,0.1],[12.6,-0.3],[13.1,-0.5],[14,-0.57]]);
P.push({lo:-1.12,hi:3.17,obs:o9,mod:function(t){return b9(t)+0.02*nz(t);}});
// 10
var k10=pl([[0,0.17],[0.2,0.07],[0.5,0.23],[0.8,0.03],[1.0,0.17],[1.3,-0.01],[1.5,0.2],[1.8,-0.12],[2.1,0.05],[2.4,-0.15],[2.6,0.12],[3.0,0.27],[3.2,0.17],[3.5,0.2],[3.9,-0.3],[4.2,0.33],[4.5,0.32],[4.8,0.25],[5.0,0.2]]);
var c10=pl([[5,0.08],[7,0.05],[9,0.07],[11,0.0],[12,-0.08],[14,-0.08]]),a10=pl([[5,0.14],[7,0.28],[9,0.36],[11,0.3],[14,0.26]]);
function w10(t){return 0.6*Math.cos(TAU*1.932*(t-0.45))+0.5*Math.cos(TAU*0.966*(t-0.3));}
P.push({lo:-0.52,hi:0.69,obs:null,mod:function(t){if(t<5)return k10(t);var f=c10(t)+a10(t)*w10(t);if(t<5.4){var u=(t-5)/0.4;return (1-u)*k10(5)+u*f;}return f;}});
// 11
var o11=pl([[0,0.34],[1,0.32],[2,0.27],[3,0.19],[3.5,0.17],[4.5,0.3],[5.5,0.36],[6.5,0.3],[7.6,0.1],[8.5,-0.05],[9.4,-0.19],[10.5,-0.3],[11.9,-0.4],[13,-0.45],[14,-0.5]]);
var sp11=[0.9,2.0,3.05,4.1,5.05,6.1,7.0,8.0,8.95,9.9,10.95,11.95,13.1];
P.push({lo:-0.76,hi:2.42,obs:o11,mod:function(t){var v=-0.22;for(var i=0;i<sp11.length;i++)v+=spk(t,sp11[i],0.77,0.07,0.12);return v;},ex:sp11});
// 12
var c12=pl([[0,-0.1],[7,-0.02],[14,-0.05]]),a12=pl([[0,0.45],[5,0.45],[7,0.6],[10,0.63],[14,0.55]]);
P.push({lo:-0.93,hi:1.15,obs:null,mod:function(t){return c12(t)+a12(t)*tide(t,0.1,0.3);}});
// 13
var o13=pl([[0,0.14],[5,0.13],[7,0.05],[9,-0.05],[11,-0.13],[14,-0.2]]);
P.push({lo:-0.84,hi:5.41,obs:o13,mod:function(t){return 0.0+tri(t,4.32,2.35,0.03)+tri(t,12.3,2.25,0.03);},ex:[4.32,12.3]});
// 14
var o14=pl([[0,0.08],[5,0.05],[9,0.02],[14,-0.05]]),bb14=pl([[0,-0.05],[14,-0.035]]);
var sp14=[[0.6,0.26],[1.9,0.62],[2.1,0.3],[2.7,0.2],[3.0,0.22],[3.3,0.19],[4.6,0.22],[6.1,0.22],[7.7,0.2],[9.9,0.3],[12.4,0.25]];
P.push({lo:-0.2,hi:2.08,obs:o14,mod:function(t){var v=bb14(t)+0.004*nz(t);for(var i=0;i<sp14.length;i++)v+=spe(t,sp14[i][0],sp14[i][1],0.03,0.12);return v;},ex:sp14.map(function(s){return s[0];})});
// 15
var a15=pl([[0,0.47],[2,0.42],[3.5,0.32],[5,0.42],[6.5,0.62],[8,0.68],[9.5,0.66],[11,0.58],[14,0.52]]);
P.push({lo:-0.86,hi:0.86,obs:function(t){return -0.02+a15(t)*tide(t,0,0.25);},mod:function(t){return -0.01+0.93*a15(t)*tide(t-0.02,0,0.25);}});
// 16
var o16=pl([[0,0.1],[14,-0.1]]);
var b16=pl([[0,-0.35],[0.5,-0.4],[0.75,0.12],[0.9,0.1],[1.5,-0.02],[2.5,-0.22],[3.7,-0.42],[3.85,0.08],[4.2,0.02],[5,-0.18],[6.1,-0.45],[6.3,0.07],[6.6,0.0],[7.5,-0.22],[8.5,-0.42],[9.1,-0.5],[9.25,0.0],[9.7,0.55],[10.0,0.62],[10.4,0.58],[10.7,0.5],[11.0,0.35],[11.3,0.22],[11.6,0.2],[11.9,0.15],[12.5,-0.05],[13.2,-0.25],[14,-0.4]]);
P.push({lo:-0.76,hi:3.37,obs:o16,mod:b16});
// 17
var o17=pl([[0,0.0],[5,0.03],[10,0.02],[14,-0.03]]);
var b17=pl([[0,0.08],[0.3,-0.05],[0.6,-0.15],[1.5,-0.08],[2.5,-0.05],[3.5,0.0],[4,-0.05],[5,0.03],[6,0.05],[7,0.07],[8,0.03],[9,0.06],[10,0.02],[11,0.05],[12,0.08],[13,0.05],[14,0.1]]);
P.push({lo:-0.55,hi:2.38,obs:function(t){return o17(t)+0.04*tide(t);},mod:function(t){return b17(t)+0.025*nz(t);}});
// 18
var o18=pl([[0,0.03],[4,0.02],[8,0.08],[11,0.06],[14,-0.02]]);
var b18=pl([[0,0.85],[0.5,0.65],[1,0.45],[1.6,0.16],[2.2,-0.05],[3.0,-0.1],[3.3,-0.2],[3.8,-0.05],[3.95,0.31],[4.6,0.22],[5.2,-0.05],[6,-0.1],[8,-0.05],[10,-0.08],[12,-0.1],[13.5,-0.15],[14,-0.3]]);
P.push({lo:-0.67,hi:2.76,obs:function(t){return o18(t)+0.1*tide(t);},mod:function(t){var r=t<2?0:Math.min(1,(t-2)/0.5);return b18(t)+r*0.14*tide(t);}});
// 19
var a19=pl([[0,0.5],[3,0.42],[5,0.5],[7,0.68],[9,0.72],[11,0.62],[14,0.55]]);
P.push({lo:-0.86,hi:0.86,obs:function(t){return -0.02+a19(t)*tide(t,0.05,0.25);},mod:function(t){return -0.01+0.94*a19(t)*tide(t+0.035,0,0.25);}});
// 20
var sp20=[[0.2,0.58],[0.5,0.15],[0.8,0.2],[1.0,0.3],[1.3,0.4],[1.5,0.88],[1.9,0.12],[2.2,0.1],[2.7,0.18],[3.3,0.28],[3.6,0.12],[4.0,0.3],[4.5,0.18],[5.0,0.12],[5.5,0.48],[5.8,0.12],[6.4,0.52],[6.7,0.2],[7.1,0.35],[7.5,0.78],[8.0,0.72],[8.4,0.12],[8.8,0.38],[9.3,0.15],[9.8,0.42],[10.2,0.12],[10.5,-0.15],[10.9,1.08],[11.5,0.56],[12.0,0.15],[12.5,0.22],[13.0,0.14],[13.3,0.22],[13.7,0.12]];
P.push({lo:-1.08,hi:2.87,obs:null,mod:function(t){var v=-0.03+0.015*nz(t);for(var i=0;i<sp20.length;i++)v+=tri(t,sp20[i][0],sp20[i][1],0.04);return v;},ex:sp20.map(function(s){return s[0];})});
// 21
var o21=pl([[0,-0.3],[1,-0.25],[2,-0.2],[2.5,-0.15],[3.0,0.15],[3.5,0.38],[4.0,0.42],[5,0.3],[6,0.12],[6.8,0.02],[7.3,0.17],[8.2,0.12],[9.5,0.0],[11,-0.1],[12,-0.2],[13.4,-0.32]]);
P.push({lo:-0.62,hi:4.08,obs:o21,oe:13.4,mod:function(t){return -0.1;}});
// 22
var o22=pl([[0,-0.133],[0.8,-0.143],[1.2,-0.11],[1.8,-0.085],[2.4,-0.067],[2.9,-0.04],[3.2,0.024],[3.65,0.085],[4.3,0.157],[4.9,0.22],[5.5,0.26],[5.9,0.267],[6.4,0.24],[7.0,0.18],[7.6,0.12],[8.5,0.06],[9.4,0.0],[10.4,-0.055],[11.3,-0.1],[12,-0.127],[12.8,-0.15],[14,-0.206]]);
var b22=pl([[0,0.055],[0.9,0.06],[1.3,0.067],[1.45,0.03],[1.7,0.027],[1.85,0.07],[2.2,0.05],[2.6,0.053],[2.9,0.069],[14,0.069]]);
P.push({lo:-0.27,hi:0.29,obs:o22,mod:b22});
// 23
var o23=pl([[0,-0.14],[1.5,-0.15],[3.3,-0.22],[4.6,-0.11],[6,-0.02],[7.0,0.04],[8.2,0.07],[11.9,0.07],[12.2,0.2],[13.1,0.25],[14,0.22]]);
var b23=pl([[0,-0.07],[1.5,-0.09],[3.3,-0.18],[3.6,0.14],[3.9,-0.04],[5.2,-0.14],[6.7,-0.04],[7.2,0.14],[7.5,-0.07],[8.8,-0.16],[10.7,-0.16],[12.2,-0.2],[12.9,0.22],[13.3,0.04],[13.7,0.04],[14,-0.14]]);
P.push({lo:-0.37,hi:2.92,obs:o23,mod:function(t){return b23(t)+0.01*nz(t);}});
// 24
var o24=pl([[0,0.03],[1,0.03],[2,0.02],[2.6,0.0],[3,-0.03],[3.2,0.02],[3.7,0.04],[4.1,0.05],[4.4,0.17],[4.8,0.22],[5.2,0.23],[6,0.21],[7,0.19],[8,0.15],[9,0.1],[10,0.03],[11,-0.06],[12,-0.15],[13,-0.22],[13.5,-0.24],[14,-0.27]]);
P.push({lo:-1.045,hi:0.326,obs:o24,mod:function(t){return -0.012+0.008*nz(t);}});

function mk(cls,pts){var e=document.createElementNS(NS,"polyline");e.setAttribute("class",cls);e.setAttribute("points",pts.join(" "));return e;}
for(var i=0;i<P.length;i++){
  var p=P[i],g=document.getElementById("d"+i);if(!g)continue;
  var sc=PH/(p.hi-p.lo);
  var sx=function(t){return (t/14*PW).toFixed(2);};
  var sy=(function(hi,sc){return function(v){return ((hi-v)*sc).toFixed(2);};})(p.hi,sc);
  if(p.obs){var oe=p.oe||14,pts=[];for(var k=0;k<=Math.round(oe*24);k++){var t=k/24;pts.push(sx(t)+","+sy(p.obs(t)));}g.appendChild(mk("ob",pts));}
  if(p.mod){var ts=[];for(var k2=0;k2<=14*96;k2++)ts.push(k2/96);if(p.ex)ts=ts.concat(p.ex);ts.sort(function(a,b){return a-b;});
    var pm=[];for(var j=0;j<ts.length;j++){pm.push(sx(ts[j])+","+sy(p.mod(ts[j])));}g.appendChild(mk("md",pm));}
}
})();
</script>
</body></html>
